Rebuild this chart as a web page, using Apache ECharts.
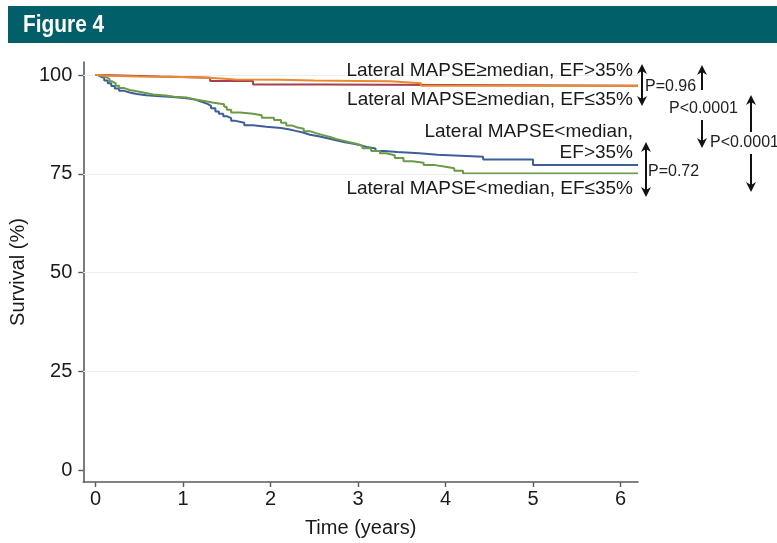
<!DOCTYPE html>
<html><head><meta charset="utf-8">
<script src="https://cdn.jsdelivr.net/npm/echarts@6/dist/echarts.min.js"></script>
<style>html,body{margin:0;padding:0;background:#fff}#c{width:777px;height:543px}</style>
</head><body><div id="c"></div>
<script>
// ---- data ----
const xTicks = [0, 1, 2, 3, 4, 5, 6];
const yTicks = [0, 25, 50, 75, 100];
const gridVals = [25, 50, 75, 100];
const seriesNames = [
  'Lateral MAPSE<median, EF>35%',
  'Lateral MAPSE<median, EF≤35%',
  'Lateral MAPSE≥median, EF≤35%',
  'Lateral MAPSE≥median, EF>35%'
];
// Kaplan-Meier steps: [time (years), survival (%) after the step]
const blueLowEFgt = [[0,100],[0.03,99.6],[0.06,99.2],[0.1,98.6],[0.14,97.9],[0.18,97.2],[0.22,96.6],[0.27,96.0],[0.33,95.6],[0.39,95.2],[0.47,94.9],[0.58,94.7],[0.7,94.5],[0.84,94.3],[0.95,94.1],[1.04,93.9],[1.12,93.5],[1.18,93.1],[1.23,92.7],[1.28,92.2],[1.32,91.6],[1.37,90.8],[1.41,90.2],[1.46,89.6],[1.5,89.1],[1.55,88.4],[1.6,87.9],[1.7,87.3],[1.8,86.9],[1.95,86.6],[2.12,86.2],[2.22,85.8],[2.3,85.4],[2.38,84.9],[2.45,84.5],[2.55,84.0],[2.65,83.5],[2.75,83.0],[2.85,82.6],[2.95,82.2],[3.03,81.8],[3.1,81.4],[3.2,80.8],[3.3,80.5],[3.45,80.2],[3.7,79.8],[3.91,79.3],[4.43,78.6],[5.0,77.2],[6.2,77.2]];
const greenLowEFle = [[0,100],[0.04,99.7],[0.08,99.4],[0.13,99.0],[0.16,98.4],[0.19,97.9],[0.23,97.3],[0.27,96.7],[0.33,96.2],[0.39,95.9],[0.47,95.5],[0.56,95.1],[0.66,94.8],[0.8,94.5],[0.9,94.3],[1.04,93.9],[1.12,93.5],[1.23,93.0],[1.35,92.6],[1.47,92.0],[1.5,91.2],[1.55,90.5],[1.65,90.2],[1.8,89.8],[1.9,89.2],[2.04,88.6],[2.12,87.9],[2.18,87.2],[2.25,86.8],[2.3,86.4],[2.38,85.8],[2.45,85.3],[2.52,84.8],[2.6,84.3],[2.68,83.8],[2.75,83.4],[2.83,83.0],[2.9,82.6],[2.98,82.1],[3.05,81.5],[3.15,80.8],[3.25,80.2],[3.32,79.7],[3.42,79.0],[3.52,78.2],[3.62,77.8],[3.75,77.2],[3.88,76.8],[4.0,76.4],[4.1,75.8],[4.2,75.1],[6.2,75.1]];
const redHighEFle = [[0,100],[0.08,99.6],[0.73,99.3],[1.31,98.5],[1.8,97.6],[2.6,97.3],[6.2,97.3]];
const orangeHighEFgt = [[0,100],[0.05,99.8],[0.15,99.6],[0.5,99.5],[1.0,99.3],[1.3,98.9],[1.6,98.8],[2.1,98.6],[2.5,98.5],[3.0,98.4],[3.37,97.9],[3.72,97.3],[6.2,97.3]];
const pTexts = ['P=0.96', 'P<0.0001', 'P<0.0001', 'P=0.72'];

const FONT = "'Liberation Sans', Arial, Helvetica, sans-serif";
const AX = '#5a5a5a';

const chart = echarts.init(document.getElementById('c'), null, {renderer: 'canvas'});

function stepSeries(name, data, color, z) {
  return {
    name, type: 'line', data, step: 'end', symbol: 'none', z,
    lineStyle: {color, width: 2}, itemStyle: {color}, silent: true, animation: false
  };
}

// arrow helpers (annotation graphics)
function arrowHead(x, y, dir) { // dir -1 up, 1 down; (x,y) tip
  return {type: 'polygon', shape: {points: [[x, y], [x - 5, y - dir * 10], [x, y - dir * 7], [x + 5, y - dir * 10]]}, style: {fill: '#111'}, z: 100};
}
function vline(x, y1, y2) {
  return {type: 'line', shape: {x1: x, y1, x2: x, y2}, style: {stroke: '#111', lineWidth: 2}, z: 100};
}
function ptext(x, y, t) {
  return {type: 'text', x, y, style: {text: t, font: '16px ' + FONT, fill: '#222', textVerticalAlign: 'middle', textAlign: 'left'}, z: 100};
}
function label(x, y, t) {
  return {type: 'text', x, y, style: {text: t, font: '19px ' + FONT, fill: '#1a1a1a', textVerticalAlign: 'middle', textAlign: 'right'}, z: 100};
}

const graphics = [
  {type: 'rect', shape: {x: 8, y: 6, width: 769, height: 37}, style: {fill: '#005f68'}, z: 50},
  {type: 'text', x: 23, y: 25, scaleX: 0.87, style: {text: 'Figure 4', font: "bold 24px 'Liberation Sans', Arial, sans-serif", fill: '#fff', textVerticalAlign: 'middle'}, z: 51},
  label(633, 71, 'Lateral MAPSE≥median, EF>35%'),
  label(633, 100, 'Lateral MAPSE≥median, EF≤35%'),
  label(633, 132, 'Lateral MAPSE<median,'),
  label(633, 153, 'EF>35%'),
  label(633, 189, 'Lateral MAPSE<median, EF≤35%'),
  // P=0.96 double arrow
  vline(642, 68, 102), arrowHead(642, 64, -1), arrowHead(642, 106, 1),
  ptext(645, 87, pTexts[0]),
  // first P<0.0001
  vline(702, 69, 90), arrowHead(702, 65, -1),
  ptext(669, 109, pTexts[1]),
  vline(702, 120, 144), arrowHead(702, 148, 1),
  // second P<0.0001
  vline(751, 99, 132), arrowHead(751, 95, -1),
  ptext(710, 143, pTexts[2]),
  vline(751, 154, 188), arrowHead(751, 192, 1),
  // P=0.72 double arrow
  vline(646, 146, 193), arrowHead(646, 142, -1), arrowHead(646, 197, 1),
  ptext(648, 172, pTexts[3])
];

chart.setOption({
  animation: false,
  backgroundColor: '#fff',
  textStyle: {fontFamily: FONT},
  grid: {left: 82, right: 139, top: 62, bottom: 61, containLabel: false},
  xAxis: {
    type: 'value', min: -0.14, max: 6.2,
    name: 'Time (years)', nameLocation: 'middle', nameGap: 36,
    nameTextStyle: {fontSize: 20, color: '#1a1a1a', fontFamily: FONT},
    axisLine: {show: true, onZero: false, lineStyle: {color: AX, width: 1.6}},
    axisTick: {show: true, length: 5, lineStyle: {color: AX, width: 1.4}, customValues: xTicks},
    axisLabel: {fontSize: 20, color: '#1a1a1a', margin: 7, fontFamily: FONT, customValues: xTicks},
    splitLine: {show: false}
  },
  yAxis: {
    type: 'value', min: -3, max: 103.3,
    name: 'Survival (%)', nameLocation: 'middle', nameGap: 55, nameRotate: 90,
    nameTextStyle: {fontSize: 20, color: '#1a1a1a', fontFamily: FONT},
    axisLine: {show: true, onZero: false, lineStyle: {color: AX, width: 1.6}},
    axisTick: {show: true, length: 5, lineStyle: {color: AX, width: 1.4}, customValues: yTicks},
    axisLabel: {fontSize: 20, color: '#1a1a1a', margin: 11, fontFamily: FONT, customValues: yTicks},
    splitLine: {show: false}
  },
  graphic: graphics,
  series: [
    {
      type: 'line', data: [], z: 1, silent: true,
      markLine: {
        silent: true, symbol: 'none', animation: false, label: {show: false},
        lineStyle: {color: '#eceeee', width: 1, type: 'solid'},
        data: gridVals.map(v => ({yAxis: v}))
      }
    },
    stepSeries(seriesNames[0], blueLowEFgt, '#3d5e98', 3),
    stepSeries(seriesNames[1], greenLowEFle, '#6b9b49', 4),
    stepSeries(seriesNames[2], redHighEFle, '#a6404f', 5),
    stepSeries(seriesNames[3], orangeHighEFgt, '#ea8a2c', 6)
  ]
});
</script>
</body></html>
